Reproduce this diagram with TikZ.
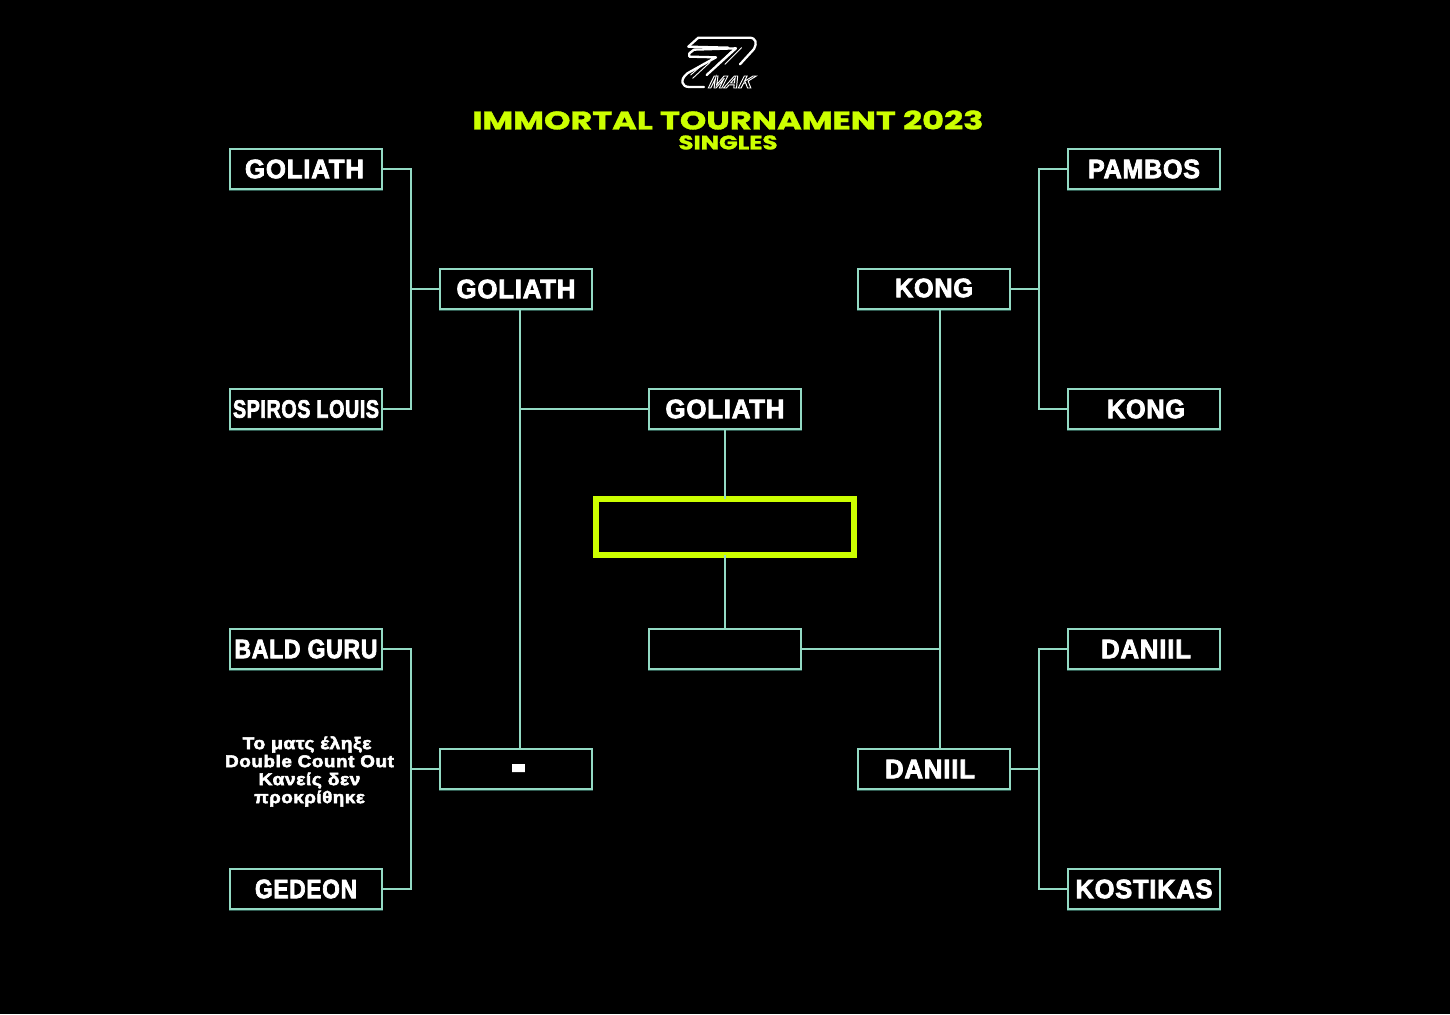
\documentclass[tikz,border=0pt]{standalone}
\usepackage{fontspec}
\usepackage{graphicx}
\setmainfont{Liberation Sans}[BoldFeatures={FakeBold=3,LetterSpace=3}]
\newfontfamily\titlefont{Poppins}[BoldFeatures={FakeBold=1.2}]
\newfontfamily\makfont{Liberation Sans Bold}[FakeSlant=.45]
\definecolor{mint}{HTML}{93DAC4}
\definecolor{mintdark}{HTML}{2F5A50}
\definecolor{lime}{HTML}{CCFF00}
\newcommand{\lab}[3][18.5]{\resizebox{#2pt}{#1pt}{\fontsize{25}{28}\selectfont\bfseries #3}}
\tikzset{
  x=1pt,y=-1pt,
  slotbox/.style={draw=mint,line width=1.8pt,fill=black,minimum width=151.5pt,minimum height=40pt,inner sep=0pt,outer sep=0pt,
    preaction={draw=mintdark,line width=1.8pt,transform canvas={yshift=-1pt}}},
  finalbox/.style={draw=lime,line width=6.5pt,fill=black,minimum width=258pt,minimum height=56pt,inner sep=0pt,outer sep=0pt},
  linkline/.style={draw=mint,line width=1.7pt},
  wtext/.style={text=white,inner sep=0pt},
  logoline/.style={draw=white,line width=2.3pt,line join=round,line cap=round},
  logothin/.style={draw=white,line width=.9pt,line cap=round}
}
\begin{document}
\begin{tikzpicture}
\useasboundingbox (0,0) rectangle (1450,1014);
\fill[black] (0,0) rectangle (1450,1014);
% junctions
\coordinate (jTL) at (411,289);
\coordinate (jBL) at (411,769);
\coordinate (jTR) at (1039,289);
\coordinate (jBR) at (1039,769);
\coordinate (jCL) at (520,409);
\coordinate (jCR) at (940,649);
\coordinate (aTL) at (520,309);
\coordinate (aBL) at (520,749);
\coordinate (aTR) at (940,309);
\coordinate (aBR) at (940,749);
% first round
\node[slotbox,label={[wtext,xshift=-1.5pt]center:\lab{119}{GOLIATH}}] (l1) at (306,169) {};
\node[slotbox,label={[wtext]center:\lab[17.5]{146}{SPIROS LOUIS}}] (l2) at (306,409) {};
\node[slotbox,label={[wtext]center:\lab{143}{BALD GURU}}] (l3) at (306,649) {};
\node[slotbox,label={[wtext]center:\lab{102}{GEDEON}}] (l4) at (306,889) {};
\node[slotbox,label={[wtext]center:\lab{112}{PAMBOS}}] (r1) at (1144,169) {};
\node[slotbox,label={[wtext,xshift=2pt]center:\lab{78}{KONG}}] (r2) at (1144,409) {};
\node[slotbox,label={[wtext,xshift=2pt]center:\lab{90}{DANIIL}}] (r3) at (1144,649) {};
\node[slotbox,label={[wtext]center:\lab{137}{KOSTIKAS}}] (r4) at (1144,889) {};
% second round
\node[slotbox,label={[wtext]center:\lab{119}{GOLIATH}}] (sl1) at (516,289) {};
\node[slotbox,label={[wtext,xshift=2.5pt,yshift=-4.5pt]center:\scalebox{1}[1.2]{\resizebox{15pt}{!}{\fontsize{40}{40}\selectfont\bfseries -}}}] (sl2) at (516,769) {};
\node[slotbox,label={[wtext,yshift=1pt]center:\lab{78}{KONG}}] (sr1) at (934,289) {};
\node[slotbox,label={[wtext,xshift=-4pt]center:\lab{90}{DANIIL}}] (sr2) at (934,769) {};
% semi final
\node[slotbox,label={[wtext]center:\lab{119}{GOLIATH}}] (c1) at (725,409) {};
\node[slotbox] (c2) at (725,649) {};
\node[finalbox] (champ) at (725,527) {};
% connectors
\draw[linkline] (l1.east) -| (jTL) |- (l2.east);
\draw[linkline] (jTL) -- (sl1.west);
\draw[linkline] (l3.east) -| (jBL) |- (l4.east);
\draw[linkline] (jBL) -- (sl2.west);
\draw[linkline] (r1.west) -| (jTR) |- (r2.west);
\draw[linkline] (jTR) -- (sr1.east);
\draw[linkline] (r3.west) -| (jBR) |- (r4.west);
\draw[linkline] (jBR) -- (sr2.east);
\draw[linkline] (aTL) -- (aBL);
\draw[linkline] (jCL) -- (c1.west);
\draw[linkline] (aTR) -- (aBR);
\draw[linkline] (c2.east) -- (jCR);
\draw[linkline] (c1.south) -- (champ.north);
\draw[linkline] (champ.south) -- (c2.north);
% note
\node[wtext,align=center,font=\fontsize{17}{18}\selectfont\bfseries] (note) at (309.5,771.5)
  {\scalebox{1.13}[1]{Το ματς έληξε}\hspace*{5pt}\\
   \scalebox{1.11}[1]{Double Count Out}\\
   \scalebox{1.13}[1]{Κανείς δεν}\hspace*{9pt}\\
   \scalebox{1.10}[1]{προκρίθηκε}};
% title
\node[wtext,text=lime] (title) at (728,120) {\resizebox{511pt}{19pt}{\titlefont\bfseries IMMORTAL TOURNAMENT 2023}};
\node[wtext,text=lime] (sub) at (728,142.5) {\resizebox{99pt}{14pt}{\titlefont\bfseries SINGLES}};
% logo
\begin{scope}[shift={(660,25)},x=.3333pt,y=-.3333pt]
  \draw[logoline] (85,65) -- (115,38) -- (268,38) .. controls (288,38) and (292,55) .. (282,72) -- (240,118);
  \draw[logoline] (85,65) -- (205,68);
  \draw[logoline] (88,85) -- (102,74) -- (228,70) -- (140,150);
  \draw[logoline] (88,85) -- (88,95) -- (168,97) -- (82,145) .. controls (58,165) and (65,186) .. (88,186) -- (132,186);
  \draw[logothin] (215,78) -- (170,120);
  \draw[logothin] (245,68) -- (195,118);
  \draw[logothin] (132,115) -- (92,150);
  \draw[logothin] (150,112) -- (98,160);
  \node[wtext] (mak) at (207,171) {\special{pdf:code q 1 Tr 0.5 w 1 1 1 RG}\resizebox{44pt}{12pt}{\makfont MAK}\special{pdf:code Q}};
\end{scope}
\end{tikzpicture}
\end{document}
